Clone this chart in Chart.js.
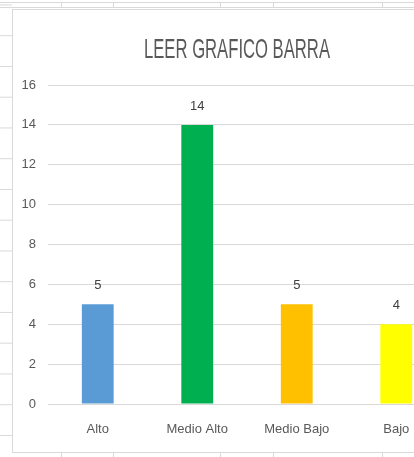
<!DOCTYPE html>
<html>
<head>
<meta charset="utf-8">
<script src="https://cdn.jsdelivr.net/npm/chart.js@4"></script>
<style>
  html, body { margin: 0; padding: 0; }
  body { width: 414px; height: 457px; overflow: hidden; position: relative; background: #fff; }
  .line { position: absolute; background: #d9d9d9; }
  #leftCol {
    position: absolute; left: 0; top: 0; width: 12px; height: 457px;
    background-image: linear-gradient(to bottom, transparent 29.75px, #d9d9d9 29.75px);
    background-size: 100% 30.75px;
    background-position: 0 5.45px;
  }
  #chartBox {
    position: absolute; left: 12px; top: 9px; width: 448px; height: 442px;
    border: 1px solid #d9d9d9; background: #fff;
  }
  #chartBox canvas { display: block; }
</style>
</head>
<body>
<div id="leftCol"></div>
<div id="sheet"></div>
<div id="chartBox"><canvas id="grafico" width="448" height="442"></canvas></div>
<script>
const titulo = 'LEER GRAFICO BARRA';
const categorias = ['Alto', 'Medio Alto', 'Medio Bajo', 'Bajo'];
const valores = [5, 14, 5, 4];
const colores = ['#5b9bd5', '#00b050', '#ffc000', '#ffff00'];

// lineas de la hoja de calculo alrededor del grafico
const sheet = document.getElementById('sheet');
function linea(x, y, w, h) {
  const d = document.createElement('div');
  d.className = 'line';
  d.style.cssText = `left:${x}px;top:${y}px;width:${w}px;height:${h}px`;
  sheet.appendChild(d);
}
linea(0, 2, 414, 1);
linea(0, 7, 414, 1);
[61, 113, 220, 273, 382].forEach(x => {
  linea(x, 2, 1, 6);
  linea(x, 452, 1, 5);
});

const fuente = '"Liberation Sans", Arial, sans-serif';

// titulo estrecho, como Calibri en Excel
const tituloPlugin = {
  id: 'tituloExcel',
  afterDraw(chart) {
    const c = chart.ctx;
    c.save();
    c.font = '28px ' + fuente;
    c.fillStyle = '#595959';
    c.textAlign = 'center';
    c.textBaseline = 'alphabetic';
    const ancho = c.measureText(titulo).width;
    c.translate(chart.width / 2, 48.3);
    c.scale(186 / ancho, 1);
    c.fillText(titulo, 0, 0);
    c.restore();
  }
};

const etiquetasPlugin = {
  id: 'etiquetas',
  afterDatasetsDraw(chart) {
    const c = chart.ctx;
    const meta = chart.getDatasetMeta(0);
    c.save();
    c.font = '13px ' + fuente;
    c.fillStyle = '#404040';
    c.textAlign = 'center';
    c.textBaseline = 'alphabetic';
    meta.data.forEach((bar, i) => {
      c.fillText(String(valores[i]), bar.x, bar.y - 15);
    });
    c.restore();
  }
};

const ctx = document.getElementById('grafico').getContext('2d');

new Chart(ctx, {
  type: 'bar',
  data: {
    labels: categorias,
    datasets: [{
      data: valores,
      backgroundColor: colores,
      borderWidth: 0,
      categoryPercentage: 1,
      barPercentage: 0.32
    }]
  },
  options: {
    responsive: false,
    animation: false,
    layout: { padding: { top: 75, right: 15, left: 0, bottom: 0 } },
    plugins: {
      legend: { display: false },
      title: { display: false },
      tooltip: { enabled: false }
    },
    scales: {
      x: {
        grid: { display: false },
        border: { display: false },
        ticks: {
          color: '#595959',
          font: { family: fuente, size: 13 },
          padding: 10
        },
        afterFit(scale) { scale.height = 48; }
      },
      y: {
        min: 0,
        max: 16,
        grid: { color: '#d9d9d9', drawTicks: false },
        border: { display: false },
        ticks: {
          stepSize: 2,
          color: '#595959',
          font: { family: fuente, size: 13 },
          padding: 12
        },
        afterFit(scale) { scale.width = 35; }
      }
    }
  },
  plugins: [tituloPlugin, etiquetasPlugin]
});
</script>
</body>
</html>
